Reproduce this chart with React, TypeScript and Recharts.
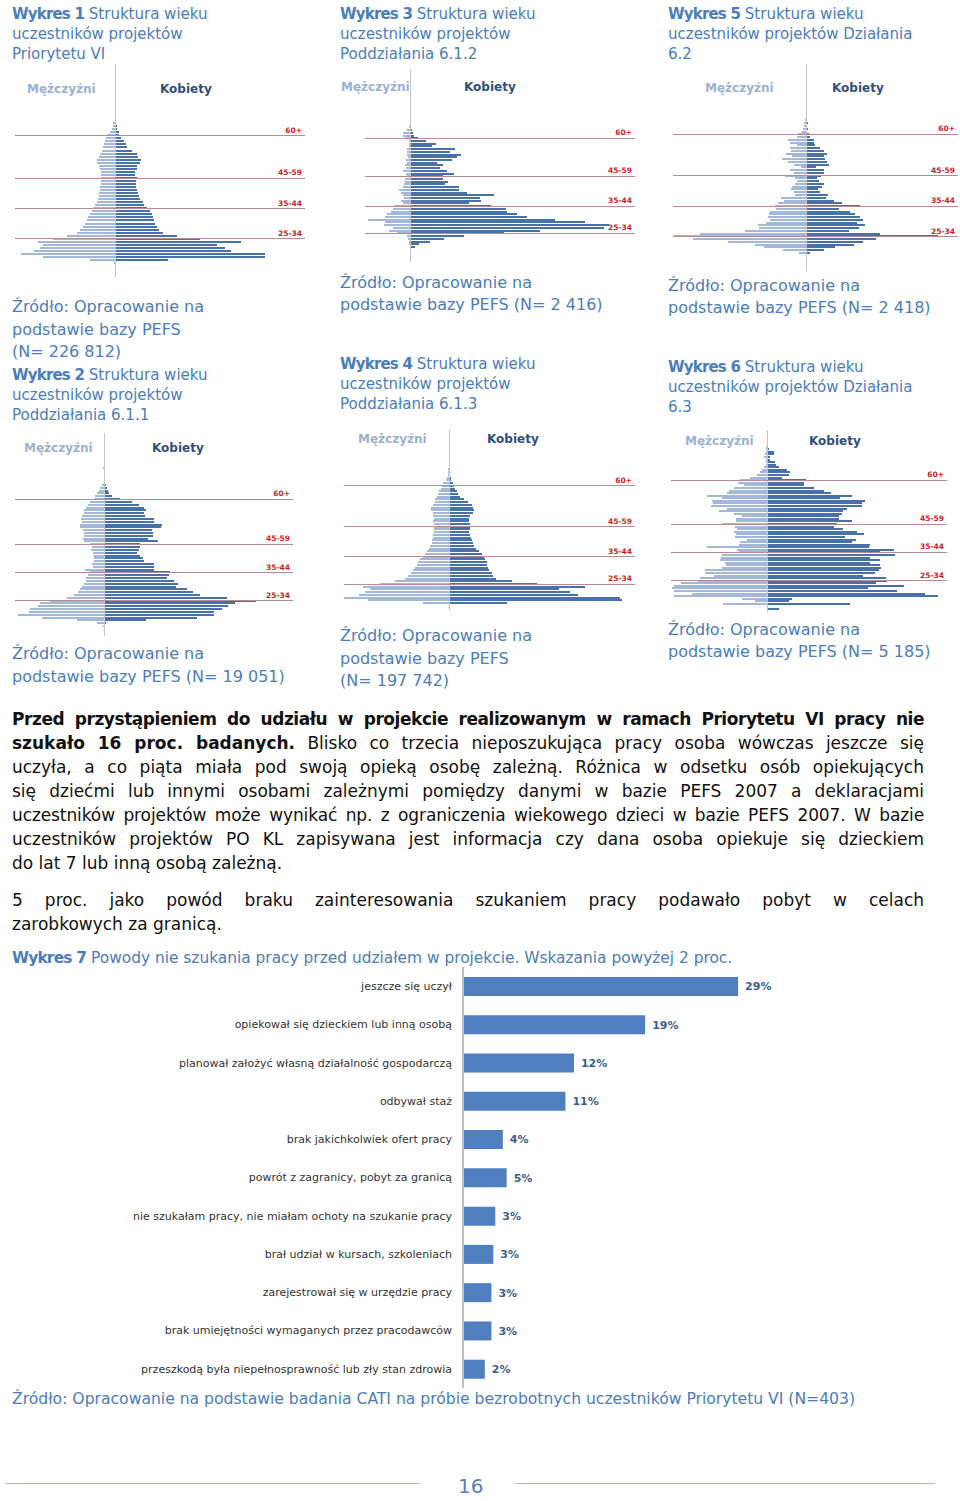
import React from 'react'
import { BarChart, Bar, XAxis, YAxis, ReferenceLine, LabelList } from 'recharts'

const FONT = '"DejaVu Sans", sans-serif'
const BLUE = '#4a7dba'
const MEN = '#a3b7d7'
const WOMEN = '#4871aa'
const GROUP_LINE = '#b88a94'
const GROUP_TEXT = '#c81e28'

const GROUPS = ['60+', '45-59', '35-44', '25-34']

// Wykres 1 - Priorytet VI (oldest first, top age 63)
const men1 = [1.7, 2.3, 3.3, 5, 7.7, 9, 10, 11, 11.7, 13.3, 15, 16.3, 17.7, 17.7, 15.7, 15, 14.3, 14, 14.3, 14, 14.3, 15, 15, 15.7, 16.3, 17, 18.3, 20, 21.7, 23.3, 25, 26.7, 28.3, 30, 32.3, 35, 38.3, 48.3, 61.7, 76.7, 71.7, 75, 80.7, 94.3, 72.3, 25, 1]
const women1 = [1, 1.7, 2.3, 3.7, 4.3, 5.7, 9, 11, 12.3, 16.7, 21.7, 23.3, 25.7, 25, 22.3, 21.7, 20.3, 20.3, 21.7, 21, 21, 21, 21.7, 23.3, 24.3, 25, 27.7, 29, 31.7, 35, 36.7, 38.3, 39, 40, 41.7, 44.3, 48.3, 61.7, 85, 125.7, 102.3, 110, 115.7, 150, 150, 53.3, 0.3]

// Wykres 2 - Poddziałanie 6.1.1 (top age 72)
const men2 = [0.7, 0.3, 0, 0, 0, 0, 2, 4.3, 5, 7, 8.7, 10.3, 13.7, 16.3, 17.7, 19.7, 20.3, 22, 23, 22, 24.3, 23.7, 21, 20.3, 19.7, 21, 20.3, 14.3, 12.3, 13, 11, 10.3, 9.7, 10.3, 12, 11, 19, 14.3, 16.3, 17.7, 18.3, 20.3, 22, 23.7, 26.3, 29.7, 37, 53.7, 64.3, 66.3, 73.7, 75.3, 86.3, 62, 27, 7, 1]
const women2 = [0.7, 0.3, 0, 0, 0, 0, 1.7, 3, 4.3, 5, 8, 15.7, 28.3, 35, 40.3, 42.3, 39.7, 41.3, 50.3, 49.7, 57.7, 57, 48, 49, 49, 43.7, 54.3, 36.3, 36.3, 35, 33, 35.7, 39, 39.7, 50.3, 50.3, 50.3, 66.3, 64.7, 63, 70.3, 73.7, 72.3, 83, 89, 96.3, 123, 152.3, 131.3, 123.7, 118, 109.7, 109.7, 93, 41.7, 2.3, 0.3]

// Wykres 3 - Poddziałanie 6.1.2 (top age 71)
const men3 = [0.5, 0, 0, 0.5, 0, 0, 0, 1.3, 2.7, 6.7, 7.3, 5, 0.7, 1.3, 0.7, 3.3, 2.7, 2.7, 2, 4, 2.7, 4.7, 4, 7.3, 4, 3.3, 4.7, 5, 6, 6.7, 11.3, 8.7, 6.7, 6, 9.3, 7.3, 16, 17.3, 18.7, 22.7, 24.7, 42, 25.3, 26, 17.3, 21.3, 12.7, 2.7, 2, 1.3, 0.7, 0]
const women3 = [0.5, 0, 0, 0.3, 0, 0, 0, 1, 2, 2.7, 4, 8.3, 16, 26, 22, 45.3, 40, 51.3, 46.7, 41.7, 27.3, 32.7, 30, 36.7, 44, 32.7, 33.3, 38.3, 35, 48.7, 48.7, 56.7, 84, 70, 70.7, 58.7, 80.7, 96, 97.3, 106.7, 116.7, 145, 175, 199.3, 194, 130, 94, 54, 34, 20, 9.3, 4.7]

// Wykres 4 - Poddziałanie 6.1.3 (top age 66)
const men4 = [0.7, 1, 1, 1.7, 3, 5.7, 7.3, 8.3, 9.7, 10.7, 12.3, 13.7, 14, 16.3, 18, 17.7, 16.3, 15.7, 15, 15.7, 15, 15.3, 15, 15, 15.7, 15.7, 17, 17.3, 19, 20.3, 22.3, 24, 25.7, 29, 30.7, 32.3, 34, 35.7, 37.7, 40.7, 44, 54, 69, 85.7, 79, 84, 89.7, 105, 80.7, 26.3]
const women4 = [0.7, 1, 1, 1.7, 2.3, 3.7, 5, 6, 7.7, 9.3, 11, 15, 19.3, 22.7, 24.3, 25, 23.7, 21, 20.3, 20.3, 21, 21, 21, 20.3, 21, 21.7, 22.7, 23.7, 25, 27, 29.7, 32.7, 35, 36.3, 37.7, 38.3, 39, 40.3, 42.7, 44.3, 47, 62.7, 87.7, 136, 110.3, 121, 129.3, 171, 172.7, 58.3]

// Wykres 5 - Działanie 6.2 (top age 67)
const men5 = [0.3, 0, 1, 1.7, 2.3, 3, 4.3, 8.3, 9, 18, 16.3, 9, 15.7, 15, 19.7, 14, 24, 18.3, 12.3, 5, 15.7, 11.7, 20.7, 10.7, 9, 10.7, 14, 15, 12.3, 11, 25, 22.3, 27.7, 31.3, 29.7, 35.7, 37.3, 38.3, 35.7, 39.7, 48.3, 47.3, 60.7, 105.7, 132.3, 113.3, 77.7, 50.7, 41.7, 23, 7]
const women5 = [0.7, 0, 1, 1.7, 1.3, 1.7, 1, 2.7, 4.3, 7.7, 8.3, 9.3, 13.7, 17.7, 21, 18.3, 19.3, 21, 22.7, 10.3, 17.7, 17.7, 15, 11, 13, 17.7, 16, 11.7, 14.3, 21.7, 20.3, 27.7, 36, 54.3, 33.3, 44.3, 49.3, 54.3, 56.7, 51, 59.3, 53, 42.7, 73.7, 132, 70.3, 57, 47.7, 29.3, 17.7, 3.7]

// Wykres 6 - Działanie 6.3 (top age 78)
const men6 = [0.5, 0.5, 0, 0.5, 0.5, 0.5, 0.7, 1.3, 0.7, 1.7, 2.7, 0.7, 0.7, 1.3, 2.7, 5, 6.7, 10, 16.7, 26.7, 28.7, 23.3, 33.3, 38.3, 40, 60, 44.7, 55, 54, 56, 40, 48.3, 32.7, 25, 30.7, 30.7, 44.7, 31.7, 30, 33.3, 31.3, 31.7, 20, 26.7, 28.3, 60, 30, 28.3, 45, 45.7, 46.7, 41.7, 40.7, 45, 61.7, 61.7, 52.7, 67.3, 69.3, 86, 93.3, 95, 93.3, 75, 92.7, 25, 11.7, 44, 0, 0]
const women6 = [0.5, 0.5, 0, 0.5, 0.5, 0.5, 0.7, 1.7, 6.7, 6.7, 3.3, 3.3, 8.3, 9.3, 11.7, 20, 22.7, 21.7, 15, 38.7, 36.7, 37.3, 47.3, 57.3, 64, 85, 72.7, 98.3, 95, 95, 80, 76, 75, 71.7, 71.7, 85, 70, 67.3, 76, 90, 97.3, 78.3, 89.3, 85, 103.3, 101.7, 126.7, 113.3, 128.3, 103.3, 113.3, 102.7, 113.3, 114, 111.7, 108.3, 96, 118.7, 120, 109.3, 136.7, 100.7, 130, 158.3, 170.7, 25, 21.7, 82.7, 0, 11.7]

// Wykres 7
const reasons = [
  'jeszcze się uczył',
  'opiekował się dzieckiem  lub inną osobą',
  'planował założyć własną działalność gospodarczą',
  'odbywał staż',
  'brak jakichkolwiek ofert pracy',
  'powrót z zagranicy, pobyt za granicą',
  'nie szukałam pracy, nie miałam ochoty na szukanie pracy',
  'brał udział w kursach, szkoleniach',
  'zarejestrował się w urzędzie pracy',
  'brak umiejętności wymaganych przez pracodawców',
  'przeszkodą była niepełnosprawność lub zły stan zdrowia',
]
const shares = [29.0, 19.2, 11.7, 10.8, 4.2, 4.6, 3.4, 3.2, 3.0, 3.0, 2.3]

const buildRows = (men: number[], women: number[], topAge: number, padTop: number, padBottom: number) => {
  const rows: { age: number; men: number; women: number }[] = []
  const total = padTop + men.length + padBottom
  for (let i = 0; i < total; i++) {
    const j = i - padTop
    const inside = j >= 0 && j < men.length
    rows.push({ age: topAge + padTop - i, men: inside ? -men[j] : 0, women: inside ? women[j] : 0 })
  }
  return rows
}

type PyramidProps = {
  men: number[]
  women: number[]
  topAge: number
  padTop: number
  padBottom: number
  lines: number[]
  domain: [number, number]
  left: number
  top: number
  width: number
  height: number
}

const Pyramid = ({ men, women, topAge, padTop, padBottom, lines, domain, left, top, width, height }: PyramidProps) => {
  const rows = buildRows(men, women, topAge, padTop, padBottom)
  return (
    <div style={{ position: 'absolute', left, top, shapeRendering: 'crispEdges' } as React.CSSProperties}>
      <BarChart
        width={width}
        height={height}
        data={rows}
        layout="vertical"
        stackOffset="sign"
        barCategoryGap="10%"
        margin={{ top: 0, right: 0, bottom: 0, left: 0 }}
      >
        <XAxis type="number" domain={domain} hide />
        <YAxis type="category" dataKey="age" hide />
        <ReferenceLine x={0} stroke="#c6c6c6" />
        <Bar dataKey="men" stackId="p" fill={MEN} isAnimationActive={false} />
        <Bar dataKey="women" stackId="p" fill={WOMEN} isAnimationActive={false} />
        {lines.map((age, i) => (
          <ReferenceLine
            key={age}
            y={age}
            stroke={GROUP_LINE}
            label={{ value: GROUPS[i], position: 'insideBottomRight', offset: 3, fill: GROUP_TEXT, fontSize: 7.5, fontWeight: 'bold' }}
          />
        ))}
      </BarChart>
    </div>
  )
}

const Header = ({ mx, kx, y }: { mx: number; kx: number; y: number }) => (
  <>
    <div style={{ position: 'absolute', left: mx, top: y - 8, fontSize: 12, lineHeight: '16px', fontWeight: 'bold', color: '#9cb1d0' }}>Mężczyźni</div>
    <div style={{ position: 'absolute', left: kx, top: y - 8, fontSize: 12, lineHeight: '16px', fontWeight: 'bold', color: '#2f4e7c' }}>Kobiety</div>
  </>
)

const Block = ({ x, y, lh, size, lines, bold }: { x: number; y: number; lh: number; size: number; lines: string[]; bold?: string }) => (
  <div style={{ position: 'absolute', left: x, top: y, fontSize: size, lineHeight: `${lh}px`, color: BLUE, whiteSpace: 'nowrap' }}>
    {lines.map((l, i) =>
      i === 0 && bold ? (
        <div key={i}>
          <b style={{ letterSpacing: -0.8 }}>{bold}</b>
          {l}
        </div>
      ) : (
        <div key={i}>{l}</div>
      )
    )}
  </div>
)

const justified: React.CSSProperties = { textAlign: 'justify', textAlignLast: 'justify', height: 24 }

const App = () => {
  const rows7 = reasons.map((name, i) => ({ name, value: shares[i] }))
  return (
    <div style={{ position: 'absolute', left: 0, top: 0, width: 960, height: 1501, background: '#fff', fontFamily: FONT, overflow: 'hidden' }}>
      {/* column 1 */}
      <Block x={12} y={4} lh={20} size={15} bold="Wykres 1" lines={[' Struktura wieku', 'uczestników projektów', 'Priorytetu VI']} />
      <Header mx={27} kx={160} y={89} />
      <Pyramid men={men1} women={women1} topAge={63} padTop={19} padBottom={4} lines={[59, 45, 35, 25]} domain={[-100, 190]} left={15} top={64} width={290} height={213} />
      <Block x={12} y={296} lh={22.5} size={16} lines={['Źródło: Opracowanie na', 'podstawie bazy PEFS', '(N= 226 812)']} />
      <Block x={12} y={365} lh={20} size={15} bold="Wykres 2" lines={[' Struktura wieku', 'uczestników projektów', 'Poddziałania 6.1.1']} />
      <Header mx={24} kx={152} y={448} />
      <Pyramid men={men2} women={women2} topAge={72} padTop={12} padBottom={3} lines={[61, 45, 35, 25]} domain={[-89, 189]} left={15} top={433} width={278} height={203} />
      <Block x={12} y={642} lh={23} size={16} lines={['Źródło: Opracowanie na', 'podstawie bazy PEFS (N= 19 051)']} />

      {/* column 2 */}
      <Block x={340} y={4} lh={20} size={15} bold="Wykres 3" lines={[' Struktura wieku', 'uczestników projektów', 'Poddziałania 6.1.2']} />
      <Header mx={341} kx={464} y={87} />
      <Pyramid men={men3} women={women3} topAge={71} padTop={14} padBottom={5} lines={[60, 46, 35, 25]} domain={[-45, 225]} left={365} top={69} width={270} height={193} />
      <Block x={340} y={272} lh={22} size={16} lines={['Źródło: Opracowanie na', 'podstawie bazy PEFS (N= 2 416)']} />
      <Block x={340} y={354} lh={20} size={15} bold="Wykres 4" lines={[' Struktura wieku', 'uczestników projektów', 'Poddziałania 6.1.3']} />
      <Header mx={358} kx={487} y={439} />
      <Pyramid men={men4} women={women4} topAge={66} padTop={14} padBottom={2} lines={[60, 45, 34, 24]} domain={[-105, 186]} left={344} top={430} width={291} height={180} />
      <Block x={340} y={625} lh={22.5} size={16} lines={['Źródło: Opracowanie na', 'podstawie bazy PEFS', '(N= 197 742)']} />

      {/* column 3 */}
      <Block x={668} y={4} lh={20} size={15} bold="Wykres 5" lines={[' Struktura wieku', 'uczestników projektów Działania', '6.2']} />
      <Header mx={705} kx={832} y={88} />
      <Pyramid men={men5} women={women5} topAge={67} padTop={18} padBottom={6} lines={[60, 45, 34, 23]} domain={[-133, 152]} left={673} top={64} width={285} height={207} />
      <Block x={668} y={275} lh={22} size={16} lines={['Źródło: Opracowanie na', 'podstawie bazy PEFS (N= 2 418)']} />
      <Block x={668} y={357} lh={20} size={15} bold="Wykres 6" lines={[' Struktura wieku', 'uczestników projektów Działania', '6.3']} />
      <Header mx={685} kx={809} y={441} />
      <Pyramid men={men6} women={women6} topAge={78} padTop={0} padBottom={1} lines={[59, 42, 31, 20]} domain={[-96, 180]} left={671} top={430} width={276} height={183} />
      <Block x={668} y={619} lh={22} size={16} lines={['Źródło: Opracowanie na', 'podstawie bazy PEFS (N= 5 185)']} />

      {/* text */}
      <div style={{ position: 'absolute', left: 12, top: 707, width: 912, fontSize: 17, lineHeight: '24px', color: '#111' }}>
        <div style={{ ...justified, fontWeight: 'bold', letterSpacing: -0.45 }}>Przed przystąpieniem do udziału w projekcie realizowanym w ramach Priorytetu VI pracy nie</div>
        <div style={justified}>
          <b>szukało 16 proc. badanych.</b> Blisko co trzecia nieposzukująca pracy osoba wówczas jeszcze się
        </div>
        <div style={justified}>uczyła, a co piąta miała pod swoją opieką osobę zależną. Różnica w odsetku osób opiekujących</div>
        <div style={justified}>się dziećmi lub innymi osobami zależnymi pomiędzy danymi w bazie PEFS 2007 a deklaracjami</div>
        <div style={{ ...justified, letterSpacing: -0.1 }}>uczestników projektów może wynikać np. z ograniczenia wiekowego dzieci w bazie PEFS 2007. W bazie</div>
        <div style={justified}>uczestników projektów PO KL zapisywana jest informacja czy dana osoba opiekuje się dzieckiem</div>
        <div>do lat 7 lub inną osobą zależną.</div>
      </div>
      <div style={{ position: 'absolute', left: 12, top: 888, width: 912, fontSize: 17, lineHeight: '24px', color: '#111' }}>
        <div style={justified}>5 proc. jako powód braku zainteresowania szukaniem pracy podawało pobyt w celach</div>
        <div>zarobkowych za granicą.</div>
      </div>

      <Block x={12} y={949} lh={18} size={15.4} bold="Wykres 7" lines={[' Powody nie szukania pracy przed udziałem w projekcie. Wskazania powyżej 2 proc.']} />

      <div style={{ position: 'absolute', left: 0, top: 967 }}>
        <BarChart width={800} height={421} data={rows7} layout="vertical" margin={{ top: 0, right: 5, bottom: 0, left: 0 }}>
          <XAxis type="number" domain={[0, 35]} hide />
          <YAxis
            type="category"
            dataKey="name"
            width={463}
            interval={0}
            tickLine={false}
            tickMargin={5}
            axisLine={{ stroke: '#bdbdbd', strokeWidth: 2 }}
            tick={{ fill: '#333', fontSize: 11 }}
          />
          <Bar dataKey="value" fill="#4f7fbe" barSize={19} isAnimationActive={false}>
            <LabelList
              dataKey="value"
              position="right"
              offset={7}
              formatter={(v: any) => `${Math.round(Number(v))}%`}
              fill="#3e5f8e"
              fontSize={11}
              fontWeight="bold"
            />
          </Bar>
        </BarChart>
      </div>

      <Block x={12} y={1390} lh={18} size={15.6} lines={['Źródło: Opracowanie na podstawie badania CATI na próbie bezrobotnych uczestników Priorytetu VI (N=403)']} />

      {/* footer */}
      <div style={{ position: 'absolute', left: 5, top: 1483, width: 415, height: 1, background: '#a9bddb' }} />
      <div style={{ position: 'absolute', left: 515, top: 1483, width: 420, height: 1, background: '#a9bddb' }} />
      <div style={{ position: 'absolute', left: 458, top: 1474, fontSize: 20, lineHeight: '24px', color: '#5b7fae' }}>16</div>
    </div>
  )
}

export default App
